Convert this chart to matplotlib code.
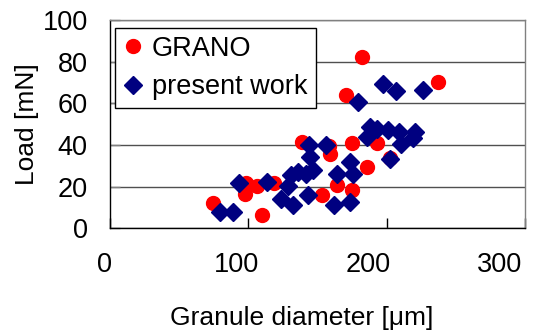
import matplotlib as mpl
mpl.use('Agg')
import matplotlib.pyplot as plt
from matplotlib.transforms import ScaledTranslation

plt.rcParams['font.family'] = ['Liberation Sans', 'DejaVu Sans']

# GRANO data (red circles)
grano_d = [74.3, 97.7, 98.5, 106.0, 109.5, 118.7, 138.6, 153.4, 158.5, 159.0,
           164.0, 170.3, 174.8, 174.8, 182.1, 185.7, 193.2, 202.6, 237.3]
grano_load = [12.0, 16.5, 21.6, 20.3, 6.4, 22.0, 41.5, 15.9, 39.3, 35.5,
              21.0, 64.2, 40.9, 18.2, 82.4, 29.6, 41.0, 33.6, 70.4]

# present work (navy diamonds)
pw_d = [79.2, 88.8, 93.1, 113.5, 123.8, 128.6, 131.0, 132.0, 135.5, 141.9,
        143.0, 143.8, 144.8, 146.6, 156.1, 161.8, 164.2, 173.6, 175.6, 173.7,
        179.2, 185.8, 187.6, 192.8, 197.3, 200.6, 202.6, 206.4, 208.7, 209.9,
        219.0, 220.2, 225.9]
pw_load = [7.7, 7.8, 21.9, 22.4, 14.2, 20.4, 25.6, 11.0, 27.2, 26.0,
           16.1, 40.0, 34.0, 28.2, 39.9, 11.2, 25.9, 32.0, 26.2, 12.8,
           60.5, 44.0, 48.6, 47.6, 69.3, 47.2, 33.4, 66.0, 46.4, 40.4,
           43.5, 46.0, 66.2]

xticks = [0, 100, 200, 300]
yticks = [0, 20, 40, 60, 80, 100]

fig = plt.figure(figsize=(5.5, 3.31), dpi=100)
ax = fig.add_axes([0.2, 0.31, 0.755, 0.63])

ax.plot(grano_d, grano_load, 'o', color='#ff0000', markersize=10, label='GRANO', zorder=3)
ax.plot(pw_d, pw_load, 'D', color='#000080', markersize=9.5, label='present work', zorder=4)

ax.set_xlim(0, 300)
ax.set_ylim(0, 100)
ax.set_xticks(xticks)
ax.set_yticks(yticks)
ax.yaxis.grid(True, color='#505050', linewidth=1.0)
ax.set_axisbelow(True)

ax.tick_params(axis='x', direction='in', length=7, width=1, pad=17, labelsize=19.5, colors='black')
ax.tick_params(axis='y', direction='in', length=7, width=1, pad=16, labelsize=19.5, colors='black')
ax.tick_params(axis='y', color='#808080')

for s in ['left', 'bottom']:
    ax.spines[s].set_color('black')
    ax.spines[s].set_linewidth(1.0)
for s in ['top', 'right']:
    ax.spines[s].set_color('#808080')
    ax.spines[s].set_linewidth(1.0)

ax.set_xlabel('Granule diameter [μm]', fontsize=19)
ax.set_ylabel('Load [mN]', fontsize=19)
ax.xaxis.set_label_coords(0.462, -0.37)
ax.yaxis.set_label_coords(-0.17, 0.5)

lgd = ax.legend(loc='upper left', bbox_to_anchor=(0.012, 0.962), borderaxespad=0,
                fontsize=19.5, frameon=True, fancybox=False, edgecolor='black',
                framealpha=1, handletextpad=0.33, handlelength=0.74,
                borderpad=0.3, labelspacing=0.45)
lgd.get_frame().set_linewidth(1.0)

# the x tick labels sit a bit left of their ticks in the original
shifts = [-5, -12, -19, -26]
for lab, dx in zip(ax.get_xticklabels(), shifts):
    lab.set_transform(lab.get_transform() + ScaledTranslation(dx / 100, 0, fig.dpi_scale_trans))

fig.savefig('out.png', dpi=100, facecolor='w')
